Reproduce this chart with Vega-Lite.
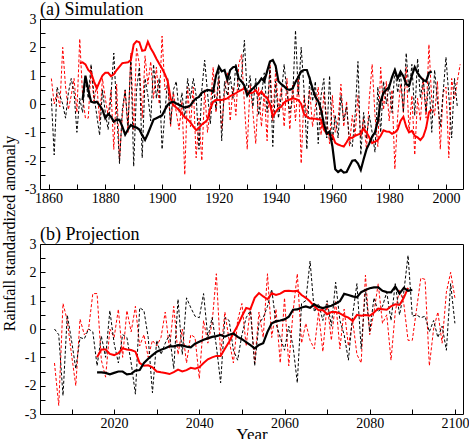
{
"$schema": "https://vega.github.io/schema/vega-lite/v6.json",
"background": "white",
"padding": {"left": 0, "top": 0, "right": 0, "bottom": 0},
"bounds": "flush",
"spacing": 55,
"config": {
 "view": {"stroke": "#000", "strokeWidth": 1},
 "axis": {"domain": false, "grid": false, "tickColor": "#000", "tickSize": -5, "tickWidth": 1, "labelFont": "Liberation Serif", "labelFontSize": 14, "labelColor": "#000", "labelOverlap": false, "labelFlush": false, "titleFont": "Liberation Serif", "titleFontSize": 16, "titleFontWeight": "normal", "titleColor": "#000"},
 "axisX": {"labelPadding": 7},
 "axisY": {"labelPadding": 9},
 "title": {"font": "Liberation Serif", "fontSize": 18, "fontWeight": "normal", "color": "#000", "anchor": "start", "frame": "group", "baseline": "alphabetic", "offset": -7}
},
"datasets": {
"a_rd": [{"x":1861,"y":0.9},{"x":1862,"y":0.0},{"x":1863,"y":0.4},{"x":1864,"y":-0.1},{"x":1865,"y":2.0},{"x":1866,"y":0.6},{"x":1867,"y":-0.2},{"x":1868,"y":0.3},{"x":1869,"y":0.9},{"x":1870,"y":-0.3},{"x":1871,"y":2.3},{"x":1872,"y":0.3},{"x":1873,"y":-0.5},{"x":1874,"y":-0.5},{"x":1875,"y":1.3},{"x":1876,"y":0.1},{"x":1877,"y":0.7},{"x":1878,"y":-0.6},{"x":1879,"y":0.9},{"x":1880,"y":0.2},{"x":1881,"y":-0.4},{"x":1882,"y":0.5},{"x":1883,"y":-1.6},{"x":1884,"y":0.7},{"x":1885,"y":-2.0},{"x":1886,"y":-0.4},{"x":1887,"y":0.5},{"x":1888,"y":-1.0},{"x":1889,"y":1.8},{"x":1890,"y":-0.9},{"x":1891,"y":2.0},{"x":1892,"y":1.4},{"x":1893,"y":-0.5},{"x":1894,"y":1.7},{"x":1895,"y":0.7},{"x":1896,"y":1.5},{"x":1897,"y":0.2},{"x":1898,"y":1.3},{"x":1899,"y":0.0},{"x":1900,"y":2.4},{"x":1901,"y":0.5},{"x":1902,"y":0.7},{"x":1903,"y":-0.8},{"x":1904,"y":0.4},{"x":1905,"y":-0.3},{"x":1906,"y":-0.9},{"x":1907,"y":0.1},{"x":1908,"y":-2.5},{"x":1909,"y":0.6},{"x":1910,"y":-0.8},{"x":1911,"y":0.6},{"x":1912,"y":-1.9},{"x":1913,"y":-0.5},{"x":1914,"y":-2.0},{"x":1915,"y":0.5},{"x":1916,"y":-1.0},{"x":1917,"y":-0.2},{"x":1918,"y":1.3},{"x":1919,"y":-0.3},{"x":1920,"y":0.9},{"x":1921,"y":-0.9},{"x":1922,"y":0.4},{"x":1923,"y":1.1},{"x":1924,"y":-0.6},{"x":1925,"y":0.6},{"x":1926,"y":-0.4},{"x":1927,"y":1.4},{"x":1928,"y":1.75},{"x":1929,"y":0.0},{"x":1930,"y":-1.6},{"x":1931,"y":0.7},{"x":1932,"y":-0.3},{"x":1933,"y":-1.4},{"x":1934,"y":0.6},{"x":1935,"y":-0.8},{"x":1936,"y":0.4},{"x":1937,"y":-1.3},{"x":1938,"y":1.5},{"x":1939,"y":-0.6},{"x":1940,"y":1.2},{"x":1941,"y":-0.2},{"x":1942,"y":0.6},{"x":1943,"y":-0.8},{"x":1944,"y":0.9},{"x":1945,"y":-0.9},{"x":1946,"y":0.7},{"x":1947,"y":-0.6},{"x":1948,"y":1.0},{"x":1949,"y":-2.1},{"x":1950,"y":0.3},{"x":1951,"y":-0.4},{"x":1952,"y":0.5},{"x":1953,"y":-0.8},{"x":1954,"y":-0.1},{"x":1955,"y":0.6},{"x":1956,"y":-1.1},{"x":1957,"y":0.4},{"x":1958,"y":-0.5},{"x":1959,"y":-1.4},{"x":1960,"y":0.3},{"x":1961,"y":-1.0},{"x":1962,"y":-0.6},{"x":1963,"y":0.7},{"x":1964,"y":-0.8},{"x":1965,"y":0.1},{"x":1966,"y":-1.5},{"x":1967,"y":-0.4},{"x":1968,"y":-1.1},{"x":1969,"y":0.3},{"x":1970,"y":-1.2},{"x":1971,"y":-0.5},{"x":1972,"y":-1.6},{"x":1973,"y":0.2},{"x":1974,"y":1.4},{"x":1975,"y":-0.4},{"x":1976,"y":-1.5},{"x":1977,"y":1.3},{"x":1978,"y":-0.2},{"x":1979,"y":0.8},{"x":1980,"y":-0.6},{"x":1981,"y":0.5},{"x":1982,"y":-2.3},{"x":1983,"y":-0.4},{"x":1984,"y":0.7},{"x":1985,"y":-0.3},{"x":1986,"y":1.3},{"x":1987,"y":-1.0},{"x":1988,"y":0.3},{"x":1989,"y":-1.8},{"x":1990,"y":0.2},{"x":1991,"y":-0.6},{"x":1992,"y":0.9},{"x":1993,"y":-0.5},{"x":1994,"y":2.1},{"x":1995,"y":0.1},{"x":1996,"y":-0.4},{"x":1997,"y":0.8},{"x":1998,"y":-1.6},{"x":1999,"y":0.4},{"x":2000,"y":0.6},{"x":2001,"y":-1.9},{"x":2002,"y":0.9},{"x":2003,"y":0.2},{"x":2004,"y":0.8},{"x":2005,"y":1.4}],
"a_bd": [{"x":1861,"y":0.2},{"x":1862,"y":-1.8},{"x":1863,"y":0.6},{"x":1864,"y":0.3},{"x":1865,"y":0.0},{"x":1866,"y":-0.5},{"x":1867,"y":0.4},{"x":1868,"y":0.9},{"x":1869,"y":0.4},{"x":1870,"y":-1.0},{"x":1871,"y":0.2},{"x":1872,"y":-0.3},{"x":1873,"y":0.9},{"x":1874,"y":0.2},{"x":1875,"y":1.4},{"x":1876,"y":0.3},{"x":1877,"y":-0.4},{"x":1878,"y":-1.1},{"x":1879,"y":0.5},{"x":1880,"y":-0.3},{"x":1881,"y":-0.9},{"x":1882,"y":0.3},{"x":1883,"y":1.8},{"x":1884,"y":-0.2},{"x":1885,"y":-2.1},{"x":1886,"y":-0.2},{"x":1887,"y":0.5},{"x":1888,"y":-0.8},{"x":1889,"y":1.7},{"x":1890,"y":-2.2},{"x":1891,"y":0.5},{"x":1892,"y":1.3},{"x":1893,"y":-1.9},{"x":1894,"y":0.9},{"x":1895,"y":0.3},{"x":1896,"y":-0.6},{"x":1897,"y":1.4},{"x":1898,"y":0.2},{"x":1899,"y":0.9},{"x":1900,"y":-1.6},{"x":1901,"y":-0.3},{"x":1902,"y":0.9},{"x":1903,"y":-0.7},{"x":1904,"y":0.5},{"x":1905,"y":0.8},{"x":1906,"y":-0.3},{"x":1907,"y":0.4},{"x":1908,"y":-0.5},{"x":1909,"y":0.9},{"x":1910,"y":0.2},{"x":1911,"y":0.9},{"x":1912,"y":0.3},{"x":1913,"y":-1.6},{"x":1914,"y":0.5},{"x":1915,"y":1.55},{"x":1916,"y":0.4},{"x":1917,"y":-0.7},{"x":1918,"y":0.6},{"x":1919,"y":-0.2},{"x":1920,"y":1.2},{"x":1921,"y":-1.3},{"x":1922,"y":0.8},{"x":1923,"y":0.3},{"x":1924,"y":1.0},{"x":1925,"y":0.2},{"x":1926,"y":1.4},{"x":1927,"y":0.5},{"x":1928,"y":1.0},{"x":1929,"y":2.25},{"x":1930,"y":0.3},{"x":1931,"y":1.0},{"x":1932,"y":-0.1},{"x":1933,"y":0.9},{"x":1934,"y":-0.4},{"x":1935,"y":0.3},{"x":1936,"y":1.1},{"x":1937,"y":-0.3},{"x":1938,"y":1.3},{"x":1939,"y":-1.5},{"x":1940,"y":0.8},{"x":1941,"y":-0.5},{"x":1942,"y":0.3},{"x":1943,"y":1.4},{"x":1944,"y":0.4},{"x":1945,"y":-0.3},{"x":1946,"y":0.2},{"x":1947,"y":2.6},{"x":1948,"y":0.3},{"x":1949,"y":2.0},{"x":1950,"y":0.5},{"x":1951,"y":-1.6},{"x":1952,"y":1.0},{"x":1953,"y":0.1},{"x":1954,"y":0.8},{"x":1955,"y":-1.4},{"x":1956,"y":0.3},{"x":1957,"y":0.9},{"x":1958,"y":-1.2},{"x":1959,"y":1.0},{"x":1960,"y":-1.3},{"x":1961,"y":-0.4},{"x":1962,"y":-1.2},{"x":1963,"y":0.3},{"x":1964,"y":-0.6},{"x":1965,"y":-0.1},{"x":1966,"y":-1.3},{"x":1967,"y":-1.5},{"x":1968,"y":-0.4},{"x":1969,"y":1.5},{"x":1970,"y":-1.8},{"x":1971,"y":-0.3},{"x":1972,"y":-1.2},{"x":1973,"y":-0.4},{"x":1974,"y":-1.0},{"x":1975,"y":-1.7},{"x":1976,"y":0.6},{"x":1977,"y":-1.0},{"x":1978,"y":0.8},{"x":1979,"y":0.0},{"x":1980,"y":0.7},{"x":1981,"y":-0.3},{"x":1982,"y":1.25},{"x":1983,"y":0.4},{"x":1984,"y":1.1},{"x":1985,"y":-0.3},{"x":1986,"y":1.8},{"x":1987,"y":0.4},{"x":1988,"y":1.4},{"x":1989,"y":-0.4},{"x":1990,"y":1.6},{"x":1991,"y":0.2},{"x":1992,"y":0.9},{"x":1993,"y":-0.3},{"x":1994,"y":0.8},{"x":1995,"y":-1.0},{"x":1996,"y":1.2},{"x":1997,"y":0.1},{"x":1998,"y":-0.8},{"x":1999,"y":0.4},{"x":2000,"y":1.65},{"x":2001,"y":0.3},{"x":2002,"y":-1.2},{"x":2003,"y":0.9},{"x":2004,"y":-0.1}],
"a_rs": [{"x":1871,"y":1.44},{"x":1872,"y":1.47},{"x":1873,"y":1.4},{"x":1874,"y":1.2},{"x":1875,"y":1.1},{"x":1876,"y":0.8},{"x":1877,"y":0.55},{"x":1878,"y":0.79},{"x":1879,"y":1.0},{"x":1880,"y":1.1},{"x":1881,"y":1.1},{"x":1882,"y":0.98},{"x":1883,"y":1.05},{"x":1884,"y":1.2},{"x":1885,"y":1.32},{"x":1886,"y":1.44},{"x":1887,"y":1.46},{"x":1888,"y":1.47},{"x":1889,"y":1.55},{"x":1890,"y":2.1},{"x":1891,"y":2.22},{"x":1892,"y":2.18},{"x":1893,"y":1.88},{"x":1894,"y":1.9},{"x":1895,"y":2.2},{"x":1896,"y":1.97},{"x":1897,"y":1.8},{"x":1898,"y":1.6},{"x":1899,"y":1.42},{"x":1900,"y":1.25},{"x":1901,"y":1.05},{"x":1902,"y":0.8},{"x":1903,"y":0.2},{"x":1904,"y":-0.05},{"x":1905,"y":-0.12},{"x":1906,"y":-0.22},{"x":1907,"y":-0.35},{"x":1908,"y":-0.47},{"x":1909,"y":-0.55},{"x":1910,"y":-0.65},{"x":1911,"y":-0.8},{"x":1912,"y":-0.92},{"x":1913,"y":-0.85},{"x":1914,"y":-0.72},{"x":1915,"y":-0.65},{"x":1916,"y":-0.55},{"x":1917,"y":-0.15},{"x":1918,"y":0.08},{"x":1919,"y":0.14},{"x":1920,"y":0.14},{"x":1921,"y":0.14},{"x":1922,"y":0.17},{"x":1923,"y":0.2},{"x":1924,"y":0.28},{"x":1925,"y":0.33},{"x":1926,"y":0.38},{"x":1927,"y":0.45},{"x":1928,"y":0.5},{"x":1929,"y":0.55},{"x":1930,"y":0.42},{"x":1931,"y":0.38},{"x":1932,"y":0.4},{"x":1933,"y":0.49},{"x":1934,"y":0.32},{"x":1935,"y":0.44},{"x":1936,"y":0.28},{"x":1937,"y":0.22},{"x":1938,"y":0.0},{"x":1939,"y":-0.45},{"x":1940,"y":-0.28},{"x":1941,"y":-0.15},{"x":1942,"y":-0.1},{"x":1943,"y":0.05},{"x":1944,"y":0.12},{"x":1945,"y":0.16},{"x":1946,"y":0.2},{"x":1947,"y":0.18},{"x":1948,"y":0.14},{"x":1949,"y":0.0},{"x":1950,"y":-0.35},{"x":1951,"y":-0.45},{"x":1952,"y":-0.51},{"x":1953,"y":-0.51},{"x":1954,"y":-0.52},{"x":1955,"y":-0.54},{"x":1956,"y":-0.56},{"x":1957,"y":-0.9},{"x":1958,"y":-1.05},{"x":1959,"y":-1.09},{"x":1960,"y":-1.1},{"x":1961,"y":-1.37},{"x":1962,"y":-1.43},{"x":1963,"y":-1.47},{"x":1964,"y":-1.5},{"x":1965,"y":-1.35},{"x":1966,"y":-1.18},{"x":1967,"y":-1.2},{"x":1968,"y":-1.12},{"x":1969,"y":-1.08},{"x":1970,"y":-1.04},{"x":1971,"y":-0.87},{"x":1972,"y":-1.0},{"x":1973,"y":-1.18},{"x":1974,"y":-1.38},{"x":1975,"y":-1.33},{"x":1976,"y":-1.27},{"x":1977,"y":-1.12},{"x":1978,"y":-0.93},{"x":1979,"y":-0.97},{"x":1980,"y":-0.98},{"x":1981,"y":-1.05},{"x":1982,"y":-1.0},{"x":1983,"y":-0.9},{"x":1984,"y":-0.6},{"x":1985,"y":-0.45},{"x":1986,"y":-0.8},{"x":1987,"y":-1.0},{"x":1988,"y":-0.95},{"x":1989,"y":-1.12},{"x":1990,"y":-1.18},{"x":1991,"y":-1.27},{"x":1992,"y":-1.15},{"x":1993,"y":-0.85},{"x":1994,"y":-0.3},{"x":1995,"y":-0.18}],
"a_bs": [{"x":1872,"y":0.14},{"x":1873,"y":1.0},{"x":1874,"y":0.5},{"x":1875,"y":0.08},{"x":1876,"y":0.05},{"x":1877,"y":0.08},{"x":1878,"y":-0.05},{"x":1879,"y":-0.2},{"x":1880,"y":-0.5},{"x":1881,"y":-0.35},{"x":1882,"y":-0.45},{"x":1883,"y":-0.62},{"x":1884,"y":-0.55},{"x":1885,"y":-0.56},{"x":1886,"y":-0.8},{"x":1887,"y":-1.08},{"x":1888,"y":-0.9},{"x":1889,"y":-0.74},{"x":1890,"y":-0.8},{"x":1891,"y":-0.83},{"x":1892,"y":-0.9},{"x":1893,"y":-1.1},{"x":1894,"y":-1.27},{"x":1895,"y":-1.05},{"x":1896,"y":-0.8},{"x":1897,"y":-0.55},{"x":1898,"y":-0.5},{"x":1899,"y":-0.45},{"x":1900,"y":-0.4},{"x":1901,"y":-0.2},{"x":1902,"y":-0.03},{"x":1903,"y":0.05},{"x":1904,"y":0.08},{"x":1905,"y":0.02},{"x":1906,"y":-0.03},{"x":1907,"y":-0.08},{"x":1908,"y":-0.12},{"x":1909,"y":-0.1},{"x":1910,"y":-0.05},{"x":1911,"y":0.1},{"x":1912,"y":0.2},{"x":1913,"y":0.25},{"x":1914,"y":0.4},{"x":1915,"y":0.45},{"x":1916,"y":0.5},{"x":1917,"y":0.48},{"x":1918,"y":0.45},{"x":1919,"y":1.0},{"x":1920,"y":1.32},{"x":1921,"y":1.15},{"x":1922,"y":1.2},{"x":1923,"y":0.85},{"x":1924,"y":1.2},{"x":1925,"y":1.3},{"x":1926,"y":1.32},{"x":1927,"y":0.9},{"x":1928,"y":0.8},{"x":1929,"y":0.65},{"x":1930,"y":0.3},{"x":1931,"y":0.45},{"x":1932,"y":0.55},{"x":1933,"y":0.65},{"x":1934,"y":0.75},{"x":1935,"y":0.9},{"x":1936,"y":0.8},{"x":1937,"y":1.15},{"x":1938,"y":1.5},{"x":1939,"y":1.55},{"x":1940,"y":1.35},{"x":1941,"y":0.8},{"x":1942,"y":0.7},{"x":1943,"y":0.62},{"x":1944,"y":0.52},{"x":1945,"y":0.5},{"x":1946,"y":0.55},{"x":1947,"y":0.78},{"x":1948,"y":0.95},{"x":1949,"y":1.15},{"x":1950,"y":1.2},{"x":1951,"y":1.2},{"x":1952,"y":0.9},{"x":1953,"y":0.55},{"x":1954,"y":0.25},{"x":1955,"y":0.1},{"x":1956,"y":-0.2},{"x":1957,"y":-0.7},{"x":1958,"y":-1.05},{"x":1959,"y":-0.97},{"x":1960,"y":-1.5},{"x":1961,"y":-2.3},{"x":1962,"y":-2.4},{"x":1963,"y":-2.33},{"x":1964,"y":-2.42},{"x":1965,"y":-2.4},{"x":1966,"y":-2.2},{"x":1967,"y":-2.0},{"x":1968,"y":-1.98},{"x":1969,"y":-2.1},{"x":1970,"y":-2.33},{"x":1971,"y":-1.95},{"x":1972,"y":-1.6},{"x":1973,"y":-1.39},{"x":1974,"y":-1.15},{"x":1975,"y":-1.0},{"x":1976,"y":-0.6},{"x":1977,"y":0.1},{"x":1978,"y":0.4},{"x":1979,"y":0.5},{"x":1980,"y":0.6},{"x":1981,"y":0.95},{"x":1982,"y":1.2},{"x":1983,"y":0.9},{"x":1984,"y":1.14},{"x":1985,"y":0.98},{"x":1986,"y":0.7},{"x":1987,"y":0.65},{"x":1988,"y":1.0},{"x":1989,"y":1.3},{"x":1990,"y":1.1},{"x":1991,"y":0.95},{"x":1992,"y":0.85},{"x":1993,"y":0.8},{"x":1994,"y":1.1},{"x":1995,"y":1.15}],
"b_rd": [{"x":2006,"y":-1.2},{"x":2007,"y":-2.7},{"x":2008,"y":0.9},{"x":2009,"y":0.3},{"x":2010,"y":-0.9},{"x":2011,"y":-2.0},{"x":2012,"y":0.35},{"x":2013,"y":-0.2},{"x":2014,"y":0.0},{"x":2015,"y":1.25},{"x":2016,"y":1.25},{"x":2017,"y":-1.1},{"x":2018,"y":-1.7},{"x":2019,"y":0.0},{"x":2020,"y":-0.3},{"x":2021,"y":0.7},{"x":2022,"y":-1.0},{"x":2023,"y":0.65},{"x":2024,"y":-0.1},{"x":2025,"y":0.8},{"x":2026,"y":-0.6},{"x":2027,"y":-0.2},{"x":2028,"y":-1.0},{"x":2029,"y":-0.4},{"x":2030,"y":-0.6},{"x":2031,"y":-0.3},{"x":2032,"y":0.6},{"x":2033,"y":-0.7},{"x":2034,"y":0.8},{"x":2035,"y":-0.9},{"x":2036,"y":0.0},{"x":2037,"y":-1.2},{"x":2038,"y":-0.2},{"x":2039,"y":-0.3},{"x":2040,"y":-1.75},{"x":2041,"y":0.3},{"x":2042,"y":-0.5},{"x":2043,"y":0.2},{"x":2044,"y":1.95},{"x":2045,"y":-0.9},{"x":2046,"y":0.6},{"x":2047,"y":-0.4},{"x":2048,"y":-1.2},{"x":2049,"y":0.3},{"x":2050,"y":0.9},{"x":2051,"y":-0.6},{"x":2052,"y":0.8},{"x":2053,"y":-1.2},{"x":2054,"y":0.6},{"x":2055,"y":-0.3},{"x":2056,"y":1.95},{"x":2057,"y":-0.3},{"x":2058,"y":0.7},{"x":2059,"y":-1.2},{"x":2060,"y":1.1},{"x":2061,"y":-1.3},{"x":2062,"y":0.6},{"x":2063,"y":1.95},{"x":2064,"y":-0.5},{"x":2065,"y":0.2},{"x":2066,"y":-0.4},{"x":2067,"y":-0.7},{"x":2068,"y":0.6},{"x":2069,"y":-0.8},{"x":2070,"y":0.9},{"x":2071,"y":-0.4},{"x":2072,"y":1.0},{"x":2073,"y":-0.7},{"x":2074,"y":0.7},{"x":2075,"y":-0.6},{"x":2076,"y":0.3},{"x":2077,"y":-0.9},{"x":2078,"y":-1.2},{"x":2079,"y":1.9},{"x":2080,"y":-0.2},{"x":2081,"y":0.6},{"x":2082,"y":1.6},{"x":2083,"y":0.2},{"x":2084,"y":0.5},{"x":2085,"y":-1.1},{"x":2086,"y":0.6},{"x":2087,"y":1.4},{"x":2088,"y":0.9},{"x":2089,"y":-0.4},{"x":2090,"y":-0.4},{"x":2091,"y":0.7},{"x":2092,"y":1.8},{"x":2093,"y":1.75},{"x":2094,"y":-1.3},{"x":2095,"y":0.0},{"x":2096,"y":0.6},{"x":2097,"y":-0.5},{"x":2098,"y":1.3},{"x":2099,"y":2.0},{"x":2100,"y":1.1}],
"b_bd": [{"x":2006,"y":0.0},{"x":2007,"y":-0.2},{"x":2008,"y":-2.35},{"x":2009,"y":0.5},{"x":2010,"y":-0.4},{"x":2011,"y":-1.4},{"x":2012,"y":-0.3},{"x":2013,"y":-0.35},{"x":2014,"y":0.0},{"x":2015,"y":-0.1},{"x":2016,"y":-1.3},{"x":2017,"y":-0.25},{"x":2018,"y":-1.0},{"x":2019,"y":0.65},{"x":2020,"y":-0.5},{"x":2021,"y":-1.2},{"x":2022,"y":-0.2},{"x":2023,"y":-0.3},{"x":2024,"y":-1.2},{"x":2025,"y":-2.3},{"x":2026,"y":0.75},{"x":2027,"y":0.65},{"x":2028,"y":-0.3},{"x":2029,"y":-2.25},{"x":2030,"y":-0.4},{"x":2031,"y":-0.9},{"x":2032,"y":-0.5},{"x":2033,"y":-0.2},{"x":2034,"y":-1.4},{"x":2035,"y":1.05},{"x":2036,"y":-0.9},{"x":2037,"y":1.1},{"x":2038,"y":0.75},{"x":2039,"y":0.45},{"x":2040,"y":0.4},{"x":2041,"y":1.25},{"x":2042,"y":-0.3},{"x":2043,"y":0.4},{"x":2044,"y":-0.6},{"x":2045,"y":-1.9},{"x":2046,"y":0.4},{"x":2047,"y":0.3},{"x":2048,"y":-0.75},{"x":2049,"y":-1.1},{"x":2050,"y":-0.2},{"x":2051,"y":0.4},{"x":2052,"y":0.65},{"x":2053,"y":-1.3},{"x":2054,"y":0.2},{"x":2055,"y":0.4},{"x":2056,"y":0.8},{"x":2057,"y":1.4},{"x":2058,"y":0.2},{"x":2059,"y":-0.3},{"x":2060,"y":-0.75},{"x":2061,"y":0.1},{"x":2062,"y":-0.6},{"x":2063,"y":-1.9},{"x":2064,"y":0.9},{"x":2065,"y":1.0},{"x":2066,"y":2.4},{"x":2067,"y":0.6},{"x":2068,"y":0.9},{"x":2069,"y":0.3},{"x":2070,"y":1.0},{"x":2071,"y":0.1},{"x":2072,"y":1.65},{"x":2073,"y":0.3},{"x":2074,"y":-0.2},{"x":2075,"y":-1.1},{"x":2076,"y":0.5},{"x":2077,"y":1.6},{"x":2078,"y":-0.7},{"x":2079,"y":1.4},{"x":2080,"y":-0.1},{"x":2081,"y":1.1},{"x":2082,"y":0.6},{"x":2083,"y":0.8},{"x":2084,"y":1.3},{"x":2085,"y":0.3},{"x":2086,"y":1.6},{"x":2087,"y":0.5},{"x":2088,"y":1.3},{"x":2089,"y":2.6},{"x":2090,"y":0.45},{"x":2091,"y":0.5},{"x":2092,"y":0.4},{"x":2093,"y":0.45},{"x":2094,"y":-0.1},{"x":2095,"y":0.3},{"x":2096,"y":-0.3},{"x":2097,"y":0.1},{"x":2098,"y":-0.75},{"x":2099,"y":1.6},{"x":2100,"y":0.2}],
"b_rs": [{"x":2016,"y":-1.0},{"x":2017,"y":-0.72},{"x":2018,"y":-0.72},{"x":2019,"y":-0.88},{"x":2020,"y":-0.92},{"x":2021,"y":-0.85},{"x":2022,"y":-0.68},{"x":2023,"y":-0.72},{"x":2024,"y":-0.74},{"x":2025,"y":-0.8},{"x":2026,"y":-1.2},{"x":2027,"y":-1.3},{"x":2028,"y":-1.28},{"x":2029,"y":-1.35},{"x":2030,"y":-1.5},{"x":2031,"y":-1.53},{"x":2032,"y":-1.55},{"x":2033,"y":-1.59},{"x":2034,"y":-1.52},{"x":2035,"y":-1.43},{"x":2036,"y":-1.5},{"x":2037,"y":-1.45},{"x":2038,"y":-1.37},{"x":2039,"y":-1.4},{"x":2040,"y":-1.35},{"x":2041,"y":-1.2},{"x":2042,"y":-1.07},{"x":2043,"y":-1.0},{"x":2044,"y":-0.95},{"x":2045,"y":-0.95},{"x":2046,"y":-0.7},{"x":2047,"y":-0.45},{"x":2048,"y":-0.15},{"x":2049,"y":0.12},{"x":2050,"y":0.45},{"x":2051,"y":0.74},{"x":2052,"y":0.7},{"x":2053,"y":1.1},{"x":2054,"y":1.27},{"x":2055,"y":1.15},{"x":2056,"y":1.05},{"x":2057,"y":1.26},{"x":2058,"y":1.2},{"x":2059,"y":1.25},{"x":2060,"y":1.34},{"x":2061,"y":1.35},{"x":2062,"y":1.33},{"x":2063,"y":1.35},{"x":2064,"y":1.2},{"x":2065,"y":1.1},{"x":2066,"y":0.97},{"x":2067,"y":0.8},{"x":2068,"y":0.66},{"x":2069,"y":0.67},{"x":2070,"y":0.52},{"x":2071,"y":0.6},{"x":2072,"y":0.6},{"x":2073,"y":0.55},{"x":2074,"y":0.46},{"x":2075,"y":0.4},{"x":2076,"y":0.28},{"x":2077,"y":0.5},{"x":2078,"y":0.47},{"x":2079,"y":0.49},{"x":2080,"y":0.47},{"x":2081,"y":0.58},{"x":2082,"y":0.72},{"x":2083,"y":0.7},{"x":2084,"y":0.68},{"x":2085,"y":0.8},{"x":2086,"y":0.87},{"x":2087,"y":0.85},{"x":2088,"y":1.1},{"x":2089,"y":1.45}],
"b_bs": [{"x":2016,"y":-1.53},{"x":2017,"y":-1.53},{"x":2018,"y":-1.55},{"x":2019,"y":-1.6},{"x":2020,"y":-1.55},{"x":2021,"y":-1.5},{"x":2022,"y":-1.5},{"x":2023,"y":-1.6},{"x":2024,"y":-1.58},{"x":2025,"y":-1.47},{"x":2026,"y":-1.45},{"x":2027,"y":-1.2},{"x":2028,"y":-1.05},{"x":2029,"y":-0.92},{"x":2030,"y":-0.8},{"x":2031,"y":-0.73},{"x":2032,"y":-0.68},{"x":2033,"y":-0.61},{"x":2034,"y":-0.61},{"x":2035,"y":-0.57},{"x":2036,"y":-0.58},{"x":2037,"y":-0.62},{"x":2038,"y":-0.65},{"x":2039,"y":-0.52},{"x":2040,"y":-0.45},{"x":2041,"y":-0.38},{"x":2042,"y":-0.33},{"x":2043,"y":-0.28},{"x":2044,"y":-0.25},{"x":2045,"y":-0.21},{"x":2046,"y":-0.27},{"x":2047,"y":-0.2},{"x":2048,"y":-0.16},{"x":2049,"y":-0.28},{"x":2050,"y":-0.36},{"x":2051,"y":-0.46},{"x":2052,"y":-0.57},{"x":2053,"y":-0.68},{"x":2054,"y":-0.56},{"x":2055,"y":-0.5},{"x":2056,"y":-0.1},{"x":2057,"y":0.2},{"x":2058,"y":0.27},{"x":2059,"y":0.3},{"x":2060,"y":0.34},{"x":2061,"y":0.43},{"x":2062,"y":0.68},{"x":2063,"y":0.69},{"x":2064,"y":0.76},{"x":2065,"y":0.8},{"x":2066,"y":0.75},{"x":2067,"y":0.87},{"x":2068,"y":0.78},{"x":2069,"y":0.74},{"x":2070,"y":0.78},{"x":2071,"y":0.82},{"x":2072,"y":0.9},{"x":2073,"y":0.98},{"x":2074,"y":1.24},{"x":2075,"y":1.2},{"x":2076,"y":1.15},{"x":2077,"y":1.12},{"x":2078,"y":1.3},{"x":2079,"y":1.38},{"x":2080,"y":1.44},{"x":2081,"y":1.47},{"x":2082,"y":1.47},{"x":2083,"y":1.35},{"x":2084,"y":1.3},{"x":2085,"y":1.29},{"x":2086,"y":1.5},{"x":2087,"y":1.25},{"x":2088,"y":1.45},{"x":2089,"y":1.35},{"x":2090,"y":1.38}]
},
"vconcat": [
{
 "width": 423, "height": 170,
 "title": {"text": "(a) Simulation"},
 "encoding": {
  "x": {"field": "x", "type": "quantitative", "scale": {"domain": [1857, 2006], "nice": false, "zero": false}, "axis": {"title": null, "values": [1860,1870,1880,1890,1900,1910,1920,1930,1940,1950,1960,1970,1980,1990,2000], "labelExpr": "datum.value % 20 == 0 ? '' + datum.value : ''"}},
  "y": {"field": "y", "type": "quantitative", "scale": {"domain": [-3, 3], "nice": false, "zero": false}, "axis": {"title": "Rainfall standardized anomaly", "values": [-3,-2.5,-2,-1.5,-1,-0.5,0,0.5,1,1.5,2,2.5,3], "labelExpr": "datum.value % 1 == 0 ? '' + datum.value : ''", "titleY": 214, "titleX": -23, "titleAngle": -90, "titleAlign": "center"}}
 },
 "layer": [
  {"data": {"name": "a_rd"}, "mark": {"type": "line", "color": "#ff0000", "strokeWidth": 1, "strokeDash": [3, 2]}},
  {"data": {"name": "a_bd"}, "mark": {"type": "line", "color": "#000000", "strokeWidth": 1, "strokeDash": [3, 2]}},
  {"data": {"name": "a_rs"}, "mark": {"type": "line", "color": "#ff0000", "strokeWidth": 2}},
  {"data": {"name": "a_bs"}, "mark": {"type": "line", "color": "#000000", "strokeWidth": 2.2}}
 ]
},
{
 "width": 423, "height": 170,
 "title": {"text": "(b) Projection"},
 "encoding": {
  "x": {"field": "x", "type": "quantitative", "scale": {"domain": [2002.6, 2101.9], "nice": false, "zero": false}, "axis": {"title": "Year", "titleFontSize": 17, "titlePadding": -4, "values": [2010,2020,2030,2040,2050,2060,2070,2080,2090,2100], "labelExpr": "datum.value % 20 == 0 ? '' + datum.value : ''"}},
  "y": {"field": "y", "type": "quantitative", "scale": {"domain": [-3, 3], "nice": false, "zero": false}, "axis": {"title": null, "values": [-3,-2.5,-2,-1.5,-1,-0.5,0,0.5,1,1.5,2,2.5,3], "labelExpr": "datum.value % 1 == 0 ? '' + datum.value : ''"}}
 },
 "layer": [
  {"data": {"name": "b_rd"}, "mark": {"type": "line", "color": "#ff0000", "strokeWidth": 1, "strokeDash": [3, 2]}},
  {"data": {"name": "b_bd"}, "mark": {"type": "line", "color": "#000000", "strokeWidth": 1, "strokeDash": [3, 2]}},
  {"data": {"name": "b_rs"}, "mark": {"type": "line", "color": "#ff0000", "strokeWidth": 2}},
  {"data": {"name": "b_bs"}, "mark": {"type": "line", "color": "#000000", "strokeWidth": 2.2}}
 ]
}
]
}
